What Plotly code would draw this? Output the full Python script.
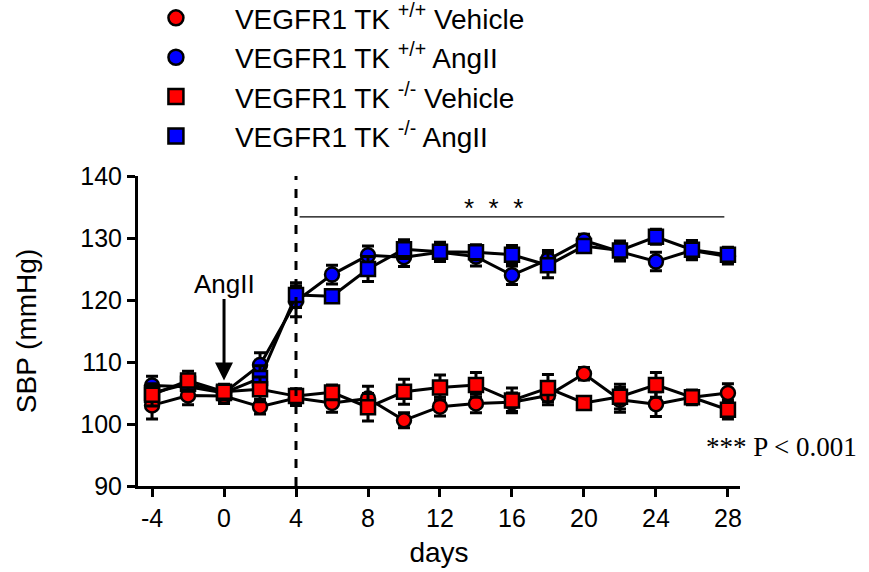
import plotly.graph_objects as go

days = [-4, -2, 0, 2, 4, 6, 8, 10, 12, 14, 16, 18, 20, 22, 24, 26, 28]
x_tick_vals = [-4, 0, 4, 8, 12, 16, 20, 24, 28]
x_tick_text = ["-4", "0", "4", "8", "12", "16", "20", "24", "28"]
y_tick_vals = [90, 100, 110, 120, 130, 140]

wt_vehicle = [103.0, 104.6, 104.5, 102.8, 104.2, 103.4, 104.1, 100.6, 102.8, 103.3, 103.5, 104.6, 108.1, 103.9, 103.2, 104.3, 105.0]
wt_vehicle_err = [2.2, 1.5, 1.2, 1.2, 1.2, 1.5, 2.0, 1.2, 1.5, 1.5, 1.5, 1.5, 1.0, 2.0, 2.0, 1.2, 1.5]
wt_angii = [106.2, 106.0, 105.0, 109.5, 119.8, 124.1, 127.2, 126.9, 127.7, 127.0, 124.0, 126.5, 129.6, 127.8, 126.2, 128.0, 127.0]
wt_angii_err = [1.5, 1.5, 1.2, 2.0, 2.5, 1.5, 1.5, 1.5, 1.5, 1.5, 1.5, 1.5, 1.0, 1.5, 1.5, 1.5, 1.2]
ko_vehicle = [104.7, 107.0, 105.2, 105.6, 104.5, 105.1, 102.7, 105.2, 105.9, 106.3, 103.8, 105.8, 103.4, 104.4, 106.3, 104.3, 102.3]
ko_vehicle_err = [1.8, 1.5, 1.2, 2.0, 1.2, 1.2, 2.2, 2.0, 2.0, 2.0, 2.0, 2.2, 1.0, 2.0, 2.0, 1.0, 1.5]
ko_angii = [105.0, 106.5, 105.0, 107.4, 120.8, 120.6, 125.0, 128.2, 127.8, 127.7, 127.3, 125.6, 128.7, 128.0, 130.2, 128.1, 127.3]
ko_angii_err = [1.2, 1.2, 1.0, 2.0, 2.0, 1.0, 2.0, 1.5, 1.5, 1.2, 1.5, 2.0, 1.0, 1.5, 1.2, 1.5, 1.2]

legend_labels = [
    "VEGFR1 TK <sup>+/+</sup> Vehicle",
    "VEGFR1 TK <sup>+/+</sup> AngII",
    "VEGFR1 TK <sup>-/-</sup> Vehicle",
    "VEGFR1 TK <sup>-/-</sup> AngII",
]

series = [
    (wt_angii, wt_angii_err, "circle", "#0000ff"),
    (wt_vehicle, wt_vehicle_err, "circle", "#ff0000"),
    (ko_angii, ko_angii_err, "square", "#0000ff"),
    (ko_vehicle, ko_vehicle_err, "square", "#ff0000"),
]

FONT = "Liberation Sans, Arial, sans-serif"
fig = go.Figure()

for vals, errs, sym, col in series:
    fig.add_trace(go.Scatter(
        x=days, y=vals, mode="lines+markers", showlegend=False,
        line=dict(color="black", width=3),
        marker=dict(symbol=sym, size=14, color=col, line=dict(color="black", width=2.5)),
        error_y=dict(type="data", array=errs, visible=True, color="black", thickness=3, width=6),
    ))

legend_items = [("circle", "#ff0000"), ("circle", "#0000ff"), ("square", "#ff0000"), ("square", "#0000ff")]
for lab, (sym, col) in zip(legend_labels, legend_items):
    fig.add_trace(go.Scatter(
        x=[None], y=[None], mode="markers", name=lab,
        marker=dict(symbol=sym, size=15, color=col, line=dict(color="black", width=2.5)),
    ))

fig.add_shape(type="line", x0=4, x1=4, y0=90, y1=140, xref="x", yref="y",
              line=dict(color="black", width=3, dash="dash"))
fig.add_shape(type="line", x0=4.2, x1=27.8, y0=133.4, y1=133.4, xref="x", yref="y",
              line=dict(color="black", width=1.2))
fig.add_annotation(x=15.0, y=134.8, xref="x", yref="y", text="*  *  *", showarrow=False,
                   font=dict(family=FONT, size=26, color="black"), yanchor="middle")
fig.add_annotation(x=0, y=122.6, xref="x", yref="y", text="AngII", showarrow=False,
                   font=dict(family=FONT, size=26, color="black"))
fig.add_annotation(x=0, y=107.0, ax=0, ay=120.4, xref="x", yref="y", axref="x", ayref="y",
                   text="", showarrow=True, arrowhead=2, arrowsize=1.2, arrowwidth=3,
                   arrowcolor="black")
fig.add_annotation(x=0.94, y=0.125, xref="paper", yref="paper", xanchor="left", yanchor="middle",
                   text="*** P < 0.001", showarrow=False,
                   font=dict(family="Liberation Serif, Times New Roman, serif", size=27, color="black"))

fig.update_layout(
    width=869, height=572,
    margin=dict(l=138, r=129, t=176, b=86, autoexpand=False),
    plot_bgcolor="white", paper_bgcolor="white",
    font=dict(family=FONT, size=25, color="black"),
    legend=dict(x=-0.035, y=1.048, yanchor="bottom", xanchor="left",
                font=dict(family=FONT, size=28), itemwidth=108,
                bgcolor="rgba(0,0,0,0)", tracegroupgap=0),
)
fig.update_xaxes(range=[-4.78, 28.67], tickvals=x_tick_vals, ticktext=x_tick_text,
                 showline=True, linewidth=3, linecolor="black", ticks="outside",
                 ticklen=8, tickwidth=2.5, tickcolor="black", showgrid=False, zeroline=False,
                 title=dict(text="days", font=dict(size=28), standoff=12),
                 tickfont=dict(size=25))
fig.update_yaxes(range=[90, 140], tickvals=y_tick_vals,
                 showline=True, linewidth=3, linecolor="black", ticks="outside",
                 ticklen=8, tickwidth=2.5, tickcolor="black", showgrid=False, zeroline=False,
                 title=dict(text="SBP (mmHg)", font=dict(size=28), standoff=36),
                 tickfont=dict(size=25))

fig.write_html("out.html")
